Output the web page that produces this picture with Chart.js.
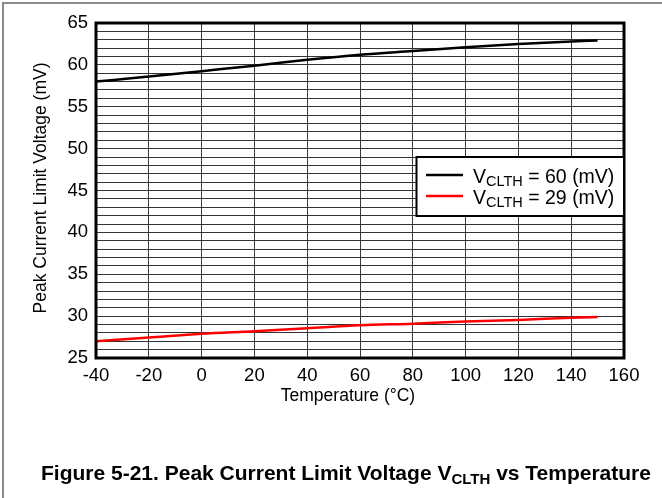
<!DOCTYPE html>
<html>
<head>
<meta charset="utf-8">
<script src="https://cdn.jsdelivr.net/npm/chart.js@4/dist/chart.umd.min.js"></script>
<style>
  html, body { margin: 0; padding: 0; background: #fff; }
  #wrap { position: relative; width: 662px; height: 498px; overflow: hidden; background: #fff; }
  #frameTop { position: absolute; left: 2px; top: 2px; width: 660px; height: 2px; background: #8a8a8a; }
  #frameLeft { position: absolute; left: 2px; top: 2px; width: 2px; height: 496px; background: #8a8a8a; }
  canvas { position: absolute; left: 0; top: 0; }
  #caption {
    position: absolute; left: 15px; top: 461px; width: 662px; text-align: center; line-height: 24px;
    font: bold 21px "Liberation Sans", Arial, sans-serif; color: #000; white-space: nowrap;
  }
  #caption sub { font-size: 15px; vertical-align: baseline; position: relative; top: 4px; }
</style>
</head>
<body>
<div id="wrap">
  <canvas id="chart" width="662" height="498"></canvas>
  <div id="frameTop"></div>
  <div id="frameLeft"></div>
  <div id="caption">Figure 5-21. Peak Current Limit Voltage V<sub>CLTH</sub> vs Temperature</div>
</div>
<script>
// Temperature sweep (°C) and measured peak current limit voltage (mV)
const temperatures = [-40, -20, 0, 20, 40, 60, 80, 100, 120, 140, 150];
const vclth60 = [58.0, 58.6, 59.25, 59.9, 60.6, 61.2, 61.65, 62.1, 62.5, 62.8, 62.9];
const vclth29 = [27.0, 27.45, 27.9, 28.2, 28.55, 28.9, 29.1, 29.35, 29.55, 29.8, 29.9];
const seriesSettings = ['= 60 (mV)', '= 29 (mV)'];
const seriesColors = ['#000000', '#ff0000'];

const xTitle = 'Temperature (°C)';
const yTitle = 'Peak Current Limit Voltage (mV)';
const FONT = '"Liberation Sans", Arial, sans-serif';

function toPoints(xs, ys) {
  return xs.map((x, i) => ({ x: x, y: ys[i] }));
}

// Thick plot frame plus rotated / horizontal axis titles
const frameAndTitles = {
  id: 'frameAndTitles',
  afterDatasetsDraw(chart) {
    const { ctx, chartArea: a } = chart;
    ctx.save();
    ctx.lineWidth = 3;
    ctx.strokeStyle = '#000';
    ctx.strokeRect(a.left, a.top, a.right - a.left, a.bottom - a.top);

    ctx.fillStyle = '#000';
    ctx.font = '17.5px ' + FONT;
    ctx.textAlign = 'center';
    ctx.textBaseline = 'middle';
    ctx.fillText(xTitle, 348, 396);

    ctx.translate(41, 188);
    ctx.rotate(-Math.PI / 2);
    ctx.fillText(yTitle, 0, 0);
    ctx.restore();
  }
};

// Boxed legend with subscripted symbol names
const vclthLegend = {
  id: 'vclthLegend',
  afterDraw(chart) {
    const { ctx, chartArea: a } = chart;
    const left = 416.5, top = 157, right = a.right, bottom = 216;
    ctx.save();
    ctx.fillStyle = '#fff';
    ctx.fillRect(left, top, right - left, bottom - top);
    ctx.lineWidth = 2;
    ctx.strokeStyle = '#000';
    ctx.strokeRect(left, top, right - left, bottom - top);

    chart.data.datasets.forEach((ds, i) => {
      const y = 175 + i * 21;
      ctx.strokeStyle = ds.borderColor;
      ctx.lineWidth = 2.5;
      ctx.beginPath();
      ctx.moveTo(426, y);
      ctx.lineTo(463, y);
      ctx.stroke();

      const base = y + 7.5;
      let x = 473;
      ctx.fillStyle = '#000';
      ctx.textAlign = 'left';
      ctx.textBaseline = 'alphabetic';
      ctx.font = '19.5px ' + FONT;
      ctx.fillText('V', x, base);
      x += ctx.measureText('V').width;
      ctx.font = '14.5px ' + FONT;
      ctx.fillText('CLTH', x, base + 3);
      x += ctx.measureText('CLTH').width;
      ctx.font = '19.5px ' + FONT;
      ctx.fillText(' ' + seriesSettings[i], x, base);
    });
    ctx.restore();
  }
};

new Chart(document.getElementById('chart'), {
  type: 'line',
  data: {
    datasets: [
      {
        label: 'VCLTH ' + seriesSettings[0],
        data: toPoints(temperatures, vclth60),
        borderColor: seriesColors[0],
        borderWidth: 2.5,
        pointRadius: 0,
        cubicInterpolationMode: 'monotone',
        fill: false
      },
      {
        label: 'VCLTH ' + seriesSettings[1],
        data: toPoints(temperatures, vclth29),
        borderColor: seriesColors[1],
        borderWidth: 2.5,
        pointRadius: 0,
        cubicInterpolationMode: 'monotone',
        fill: false
      }
    ]
  },
  options: {
    responsive: false,
    animation: false,
    devicePixelRatio: 1,
    layout: { padding: { top: 23, right: 38, left: 0, bottom: 0 } },
    plugins: {
      legend: { display: false },
      tooltip: { enabled: false }
    },
    scales: {
      x: {
        type: 'linear',
        min: -40,
        max: 160,
        afterFit(scale) { scale.height = 140; },
        border: { display: false },
        grid: { color: '#3a3a3a', lineWidth: 1, drawTicks: false },
        ticks: {
          stepSize: 20,
          padding: 7,
          color: '#000',
          font: { family: FONT, size: 18.5 },
          maxRotation: 0
        }
      },
      y: {
        min: 25,
        max: 65,
        afterFit(scale) { scale.width = 96; },
        border: { display: false },
        grid: { color: '#333', lineWidth: 1, drawTicks: false },
        ticks: {
          stepSize: 1,
          maxTicksLimit: 100,
          autoSkip: false,
          padding: 8,
          color: '#000',
          font: { family: FONT, size: 18.5 },
          callback: (v) => (v % 5 === 0 ? v : '')
        }
      }
    }
  },
  plugins: [frameAndTitles, vclthLegend]
});
</script>
</body>
</html>
